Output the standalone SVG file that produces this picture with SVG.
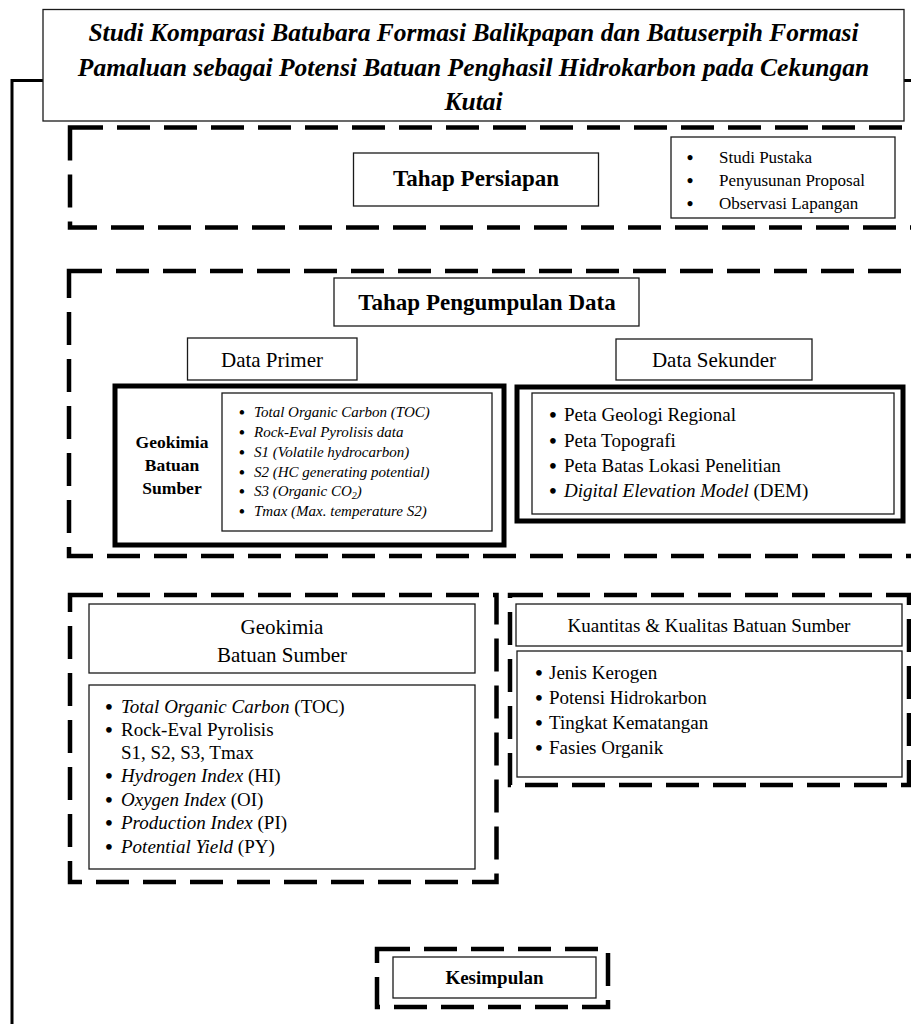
<svg xmlns="http://www.w3.org/2000/svg" width="911" height="1024" viewBox="0 0 911 1024">
<style>
text { font-family: "Liberation Serif", "Times New Roman", serif; fill: #000; }
.box { fill: #fff; stroke: #1a1a1a; stroke-width: 1.3; }
.thick { fill: #fff; stroke: #000; stroke-width: 5; }
.dash { fill: none; stroke: #000; stroke-width: 4.5; stroke-dasharray: 33 14; }
.b { font-weight: bold; }
.i { font-style: italic; }
.c { text-anchor: middle; }
.bu { text-anchor: middle; font-weight: bold; font-size: 1.1em; }
</style>
<rect width="911" height="1024" fill="#fff"/>
<g id="frame">
<path d="M12 1024 V80.5 H911" fill="none" stroke="#000" stroke-width="3"/>
</g>
<g id="connectors"></g>
<g id="title">
<rect class="box" x="43" y="9.5" width="861" height="111.5"/>
<text class="b i c" x="473.5" y="41" font-size="25.5">Studi Komparasi Batubara Formasi Balikpapan dan Batuserpih Formasi</text>
<text class="b i c" x="473.5" y="76" font-size="25.5">Pamaluan sebagai Potensi Batuan Penghasil Hidrokarbon pada Cekungan</text>
<text class="b i c" x="473.5" y="110" font-size="25.5">Kutai</text>
</g>
<g id="stage-persiapan">
<rect class="dash" x="70" y="127.5" width="880" height="100"/>
</g>
<g id="tahap-persiapan">
<rect class="box" x="353.5" y="153" width="245" height="53"/>
<text class="b c" x="476" y="186" font-size="23">Tahap Persiapan</text>
</g>
<g id="persiapan-list">
<rect class="box" x="671" y="137" width="224" height="81"/>
<g font-size="17">
<text class="bu" x="690" y="163.5">•</text><text x="719" y="163">Studi Pustaka</text>
<text class="bu" x="690" y="186.5">•</text><text x="719" y="186">Penyusunan Proposal</text>
<text class="bu" x="690" y="209.5">•</text><text x="719" y="209">Observasi Lapangan</text>
</g>
</g>
<g id="stage-pengumpulan">
<rect class="dash" x="69" y="271" width="880" height="285"/>
</g>
<g id="tahap-pengumpulan">
<rect class="box" x="334" y="278" width="305" height="48"/>
<text class="b c" x="487" y="310" font-size="23">Tahap Pengumpulan Data</text>
</g>
<g id="data-primer">
<rect class="box" x="187.5" y="338" width="169.5" height="42"/>
<text class="c" x="272" y="366.5" font-size="21">Data Primer</text>
</g>
<g id="data-sekunder">
<rect class="box" x="616" y="339" width="196" height="41"/>
<text class="c" x="714" y="367" font-size="21">Data Sekunder</text>
</g>
<g id="geokimia-primer">
<rect class="thick" x="115" y="386" width="389" height="159"/>
<text class="b c" x="172" y="448" font-size="17.5">Geokimia</text>
<text class="b c" x="172" y="471" font-size="17.5">Batuan</text>
<text class="b c" x="172" y="494" font-size="17.5">Sumber</text>
<rect class="box" x="222" y="393" width="270" height="138"/>
<g font-size="15">
<text class="bu" x="242" y="417.5">•</text><text class="i" x="254" y="417">Total Organic Carbon (TOC)</text>
<text class="bu" x="242" y="437.5">•</text><text class="i" x="254" y="437">Rock-Eval Pyrolisis data</text>
<text class="bu" x="242" y="457.5">•</text><text class="i" x="254" y="457">S1 (Volatile hydrocarbon)</text>
<text class="bu" x="242" y="477.5">•</text><text class="i" x="254" y="477">S2 (HC generating potential)</text>
<text class="bu" x="242" y="496.5">•</text><text class="i" x="254" y="496">S3 (Organic CO<tspan font-size="10" dy="3">2</tspan><tspan dy="-3">)</tspan></text>
<text class="bu" x="242" y="516.5">•</text><text class="i" x="254" y="516">Tmax (Max. temperature S2)</text>
</g>
</g>
<g id="sekunder-list">
<rect class="thick" x="517" y="387" width="386" height="134"/>
<rect class="box" x="532" y="393" width="362" height="121"/>
<g font-size="19">
<text class="bu" x="553" y="421.5">•</text><text x="564" y="421">Peta Geologi Regional</text>
<text class="bu" x="553" y="447.5">•</text><text x="564" y="447">Peta Topografi</text>
<text class="bu" x="553" y="472.5">•</text><text x="564" y="472">Peta Batas Lokasi Penelitian</text>
<text class="bu" x="553" y="497.5">•</text><text x="564" y="497"><tspan class="i">Digital Elevation Model</tspan> (DEM)</text>
</g>
</g>
<g id="stage-geokimia">
<rect class="dash" x="70" y="595" width="426.5" height="287"/>
</g>
<g id="geokimia-header">
<rect class="box" x="89" y="604" width="386" height="69"/>
<text class="c" x="282" y="634" font-size="21">Geokimia</text>
<text class="c" x="282" y="662" font-size="21">Batuan Sumber</text>
</g>
<g id="geokimia-list">
<rect class="box" x="89" y="685" width="386" height="184"/>
<g font-size="19">
<text class="bu" x="109" y="713.5">•</text><text x="121" y="713"><tspan class="i">Total Organic Carbon</tspan> (TOC)</text>
<text class="bu" x="109" y="736.5">•</text><text x="121" y="736">Rock-Eval Pyrolisis</text>
<text x="121" y="759">S1, S2, S3, Tmax</text>
<text class="bu" x="109" y="782.5">•</text><text x="121" y="782"><tspan class="i">Hydrogen Index</tspan> (HI)</text>
<text class="bu" x="109" y="806.5">•</text><text x="121" y="806"><tspan class="i">Oxygen Index</tspan> (OI)</text>
<text class="bu" x="109" y="829.5">•</text><text x="121" y="829"><tspan class="i">Production Index</tspan> (PI)</text>
<text class="bu" x="109" y="853.5">•</text><text x="121" y="853"><tspan class="i">Potential Yield</tspan> (PY)</text>
</g>
</g>
<g id="stage-kuantitas">
<rect class="dash" x="510" y="595" width="399" height="190"/>
</g>
<g id="kuantitas-header">
<rect class="box" x="516" y="604" width="386" height="42"/>
<text class="c" x="709" y="632" font-size="19">Kuantitas &amp; Kualitas Batuan Sumber</text>
</g>
<g id="kuantitas-list">
<rect class="box" x="517" y="651" width="385" height="126"/>
<g font-size="19">
<text class="bu" x="539" y="679.5">•</text><text x="549" y="679">Jenis Kerogen</text>
<text class="bu" x="539" y="704.5">•</text><text x="549" y="704">Potensi Hidrokarbon</text>
<text class="bu" x="539" y="729.5">•</text><text x="549" y="729">Tingkat Kematangan</text>
<text class="bu" x="539" y="754.5">•</text><text x="549" y="754">Fasies Organik</text>
</g>
</g>
<g id="kesimpulan">
<rect class="dash" x="377" y="949" width="231" height="58"/>
<rect class="box" x="393" y="957" width="203" height="41"/>
<text class="b c" x="494.5" y="984" font-size="19">Kesimpulan</text>
</g>
</svg>
